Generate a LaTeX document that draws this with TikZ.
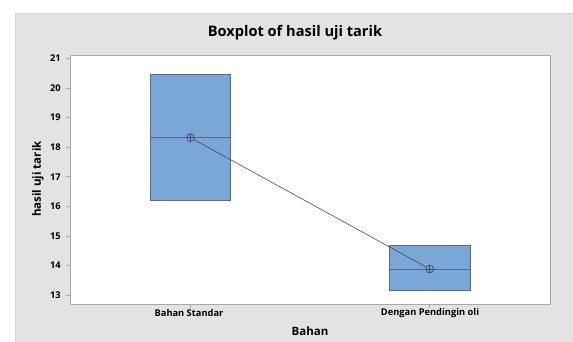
\documentclass[tikz,border=0pt]{standalone}
\usepackage{fontspec}
\setmainfont{Open Sans}
\begin{document}
\begin{tikzpicture}[x=1pt,y=-1pt,
  panel/.style={fill=panelgray,draw=paneledge,line width=0.8pt},
  frame/.style={draw=framegray,line width=0.8pt,fill=white},
  boxshape/.style={fill=boxblue,draw=boxedge,line width=0.9pt},
  medline/.style={draw=boxedge,line width=0.9pt},
  tickmark/.style={draw=framegray,line width=0.6pt},
  ticklabel/.style={font=\fontsize{9.3}{11}\selectfont\bfseries,inner sep=1pt},
  axislabel/.style={font=\fontsize{11.5}{13}\selectfont\bfseries},
  meanmark/.style={circle,draw=meangray,line width=0.7pt,minimum size=7.8pt,inner sep=0pt,
    path picture={\draw[meangray,line width=0.6pt]
      (path picture bounding box.north) -- (path picture bounding box.south)
      (path picture bounding box.west) -- (path picture bounding box.east);}},
  meanline/.style={draw=meangray,line width=0.6pt}]
\definecolor{panelgray}{HTML}{E3E3E3}
\definecolor{paneledge}{HTML}{D4D4D4}
\definecolor{framegray}{HTML}{A8A8A8}
\definecolor{boxblue}{HTML}{7BA6D8}
\definecolor{boxedge}{HTML}{5B6A80}
\definecolor{meangray}{HTML}{4A4A4A}
\useasboundingbox (0,0) rectangle (573,341);
\fill[white] (0,0) rectangle (573,341);
% outer panel and plot area
\path[panel] (15,13) rectangle (574,342);
\path[frame] (70,55) rectangle (550,304);
% y axis: value v sits at 58.3 + (21-v)*29.62
\foreach \v in {13,...,21}{
  \pgfmathsetmacro{\yy}{58.3+(21-\v)*29.62}
  \draw[tickmark] (66,\yy) -- (70,\yy);
  \node[ticklabel,anchor=east] (yt\v) at (62,\yy) {\v};
}
% x axis ticks
\draw[tickmark] (190.5,304) -- (190.5,308);
\draw[tickmark] (429.7,304) -- (429.7,308);
\node[ticklabel] (xt1) at (189,313) {Bahan Standar};
\node[ticklabel] (xt2) at (430,313) {Dengan Pendingin oli};
% titles
\node[font=\fontsize{14.6}{17}\selectfont\bfseries] (title) at (295,33) {Boxplot of hasil uji tarik};
\node[axislabel] (xlab) at (310,331) {Bahan};
\node[axislabel,rotate=90] (ylab) at (38,179) {hasil uji tarik};
% boxes: Bahan Standar (16.24 -- 20.45, median 18.32)
\path[boxshape] (150.3,74.7) rectangle (230.7,200);
\draw[medline] (150.3,137.7) -- (230.7,137.7);
% Dengan Pendingin oli (13.15 -- 14.67, median 13.88)
\path[boxshape] (389.3,245.7) rectangle (470,290.7);
\draw[medline] (389.3,269) -- (470,269);
% means and connecting line
\node[meanmark] (m1) at (190.5,137.7) {};
\node[meanmark] (m2) at (429.7,269) {};
\draw[meanline] (m1) -- (m2);
\end{tikzpicture}
\end{document}
